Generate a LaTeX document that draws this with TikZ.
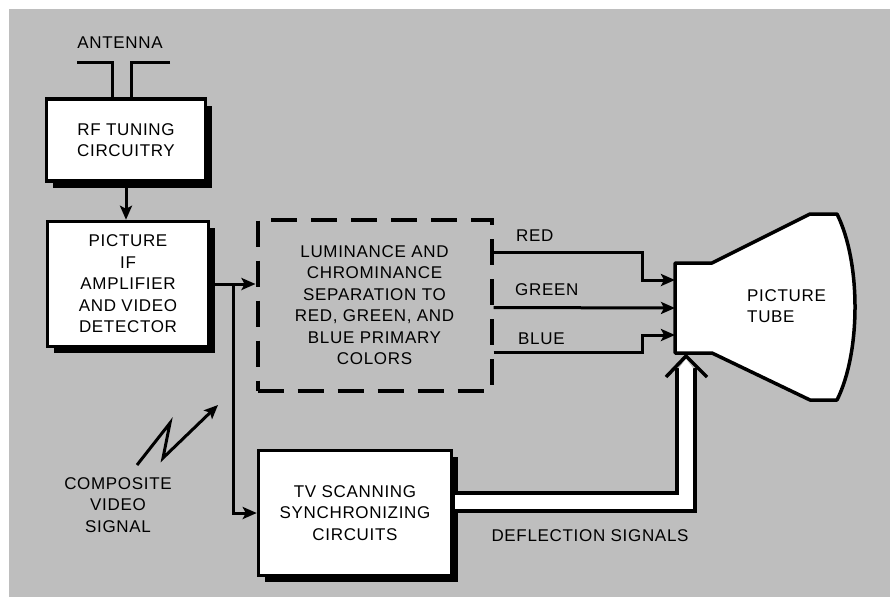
\documentclass[tikz,border=0pt]{standalone}
\usepackage{fontspec}
\setmainfont{Liberation Sans}[LetterSpace=4]
\usetikzlibrary{positioning}
\usetikzlibrary{calc}
\usetikzlibrary{arrows.meta}
\usetikzlibrary{shadows}
\definecolor{panel}{RGB}{190,190,190}

\tikzset{
  block/.style={draw, line width=3.5pt, fill=white, align=center, inner sep=0pt,
    drop shadow={shadow xshift=6.5pt, shadow yshift=-6.5pt, fill=black, opacity=1}},
  dashblock/.style={draw, line width=4pt, dash pattern=on 26pt off 14pt, align=center, inner sep=0pt},
  wire/.style={line width=3pt},
  txt/.style={align=center, inner sep=0pt},
}

\begin{document}
\begin{tikzpicture}[x=1pt, y=-1pt, >={Stealth[length=14pt,width=12pt,inset=3pt]},
    font=\fontsize{17}{21.5}\selectfont]
        % background %
        \useasboundingbox (0,0) rectangle (893,598);
        \fill[panel] (9,9) rectangle (890,597);
        % nodes %
        \node[block, minimum width=159pt, minimum height=82pt] (rf) at (126,140) {RF TUNING\\CIRCUITRY};
        \node[txt] (ant) at (120,43) {ANTENNA};
        \node[block, minimum width=161pt, minimum height=125pt] (pif) at (128,284) {PICTURE\\IF\\AMPLIFIER\\AND VIDEO\\DETECTOR};
        \node[dashblock, minimum width=234pt, minimum height=171pt] (lum) at (374.5,305) {LUMINANCE AND\\CHROMINANCE\\SEPARATION TO\\RED, GREEN, AND\\BLUE PRIMARY\\COLORS};
        \node[block, minimum width=193pt, minimum height=125pt] (tv) at (355,513) {TV SCANNING\\SYNCHRONIZING\\CIRCUITS};
        \node[txt, anchor=west] (red) at (516,236) {RED};
        \node[txt, anchor=west] (green) at (515,290) {GREEN};
        \node[txt, anchor=west] (blue) at (518,339) {BLUE};
        \node[txt] (defl) at (590,536) {DEFLECTION SIGNALS};
        \node[txt] (comp) at (118,505) {COMPOSITE\\VIDEO\\SIGNAL};
        % picture tube %
        \draw[line width=3.5pt, fill=white, line join=round] (675,263) -- (712,263) -- (810,214) -- (837,214)
            .. controls (861,262) and (861,352) .. (837,400) -- (810,400) -- (712,353) -- (675,353) -- cycle;
        \node[txt, anchor=west, align=left] (tube) at (747,306) {PICTURE\\TUBE};
        \coordinate (inR) at (675,280);
        \coordinate (inG) at (675,308);
        \coordinate (inB) at (675,335);
        \coordinate (inD) at (686,354);
        \coordinate (antL) at (77,62);
        \coordinate (antR) at (170,62);
        % edges %
        \draw[wire] (antL) -| ([xshift=-14pt]rf.north);
        \draw[wire] (antR) -| ([xshift=5pt]rf.north);
        \draw[->, wire] (rf.south) -- (rf.south |- pif.north);
        \draw[->, wire] (pif.east) -- (pif.east -| lum.west);
        \draw[->, wire] ($(pif.east)+(23,0)$) |- (tv.west);
        \draw[->, wire] ($(lum.north east)+(0,35)$) -| ($(inR)+(-33,0)$) -- (inR);
        \draw[->, wire] ($(lum.north east)+(0,90)$) -- (inG);
        \draw[->, wire] ($(lum.north east)+(0,135)$) -| ($(inB)+(-33,0)$) -- (inB);
        % deflection band %
        \draw[line width=3.5pt, double=white, double distance=14.5pt, line join=miter] ([xshift=1.75pt, yshift=11pt]tv.east) -| ($(inD)+(0,14)$);
        \fill[white] ($(inD)+(-7.25,14.5)$) -- ($(inD)+(0,5)$) -- ($(inD)+(7.25,14.5)$) -- cycle;
        \draw[wire, line width=3.5pt, line join=miter] ($(inD)+(-20,23)$) -- ($(inD)+(0,2)$) -- ($(inD)+(21,23)$);
        % composite video signal %
        \draw[->, wire] (137,465) -- (170,423) -- (163,458) -- (218,405);
\end{tikzpicture}
\end{document}
